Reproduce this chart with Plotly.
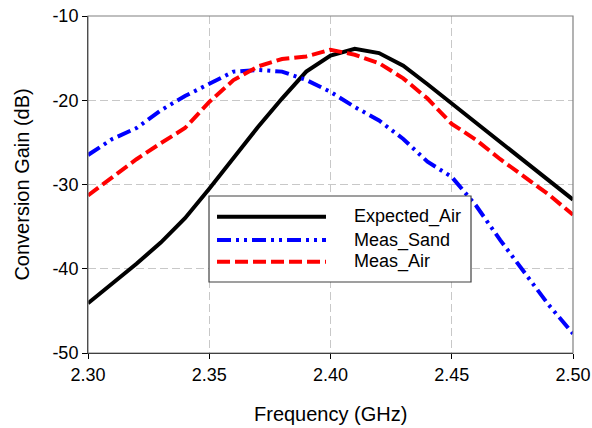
import plotly.graph_objects as go

freq = [2.30, 2.31, 2.32, 2.33, 2.34, 2.35, 2.36, 2.37, 2.38, 2.39, 2.40,
        2.41, 2.42, 2.43, 2.44, 2.45, 2.46, 2.47, 2.48, 2.49, 2.50]
expected_air = [-44.1, -41.8, -39.4, -36.9, -34.0, -30.5, -26.8, -23.2, -19.8, -16.6, -14.7,
                -13.9, -14.4, -15.9, -18.1, -20.4, -22.7, -24.9, -27.2, -29.5, -31.8]
meas_sand = [-26.5, -24.6, -23.3, -21.2, -19.5, -18.0, -16.6, -16.4, -16.6, -17.6, -19.0,
             -20.8, -22.4, -24.6, -27.3, -29.1, -32.5, -36.6, -40.5, -44.3, -47.7]
meas_air = [-31.3, -29.2, -27.0, -25.1, -23.3, -20.2, -17.6, -16.0, -15.1, -14.8, -14.0,
            -14.6, -15.6, -17.4, -19.8, -22.8, -24.7, -27.0, -29.1, -31.2, -33.6]
series_names = ["Expected_Air", "Meas_Sand", "Meas_Air"]
x_ticks = [2.30, 2.35, 2.40, 2.45, 2.50]
x_labels = ["2.30", "2.35", "2.40", "2.45", "2.50"]
y_ticks = [-50, -40, -30, -20, -10]
y_labels = ["-50", "-40", "-30", "-20", "-10"]

styles = [
    dict(color="#000000", width=4, dash="solid"),
    dict(color="#0000ff", width=4, dash="14px,5px,3px,5px,3px,5px"),
    dict(color="#ff0000", width=4, dash="13px,5px"),
]
series = [expected_air, meas_sand, meas_air]

FONT = "Liberation Sans, Arial, sans-serif"
fig = go.Figure()
for name, vals, st in zip(series_names, series, styles):
    fig.add_trace(go.Scatter(x=freq, y=vals, mode="lines", name=name,
                             line=dict(color=st["color"], width=st["width"], dash=st["dash"]),
                             showlegend=False))

# custom legend
shapes = [
    dict(type="rect", xref="paper", yref="paper", x0=0, x1=1, y0=0, y1=1,
         line=dict(color="#808080", width=1.2), layer="above"),
    dict(type="rect", xref="paper", yref="paper", x0=0.2495, x1=0.7897, y0=0.2107, y1=0.4659,
         line=dict(color="#404040", width=1.2), fillcolor="white", layer="above"),
]
rows = [0.4045, 0.3353, 0.2709]
annotations = []
for name, st, ry in zip(series_names, styles, rows):
    shapes.append(dict(type="line", xref="paper", yref="paper", x0=0.266, x1=0.4907, y0=ry, y1=ry,
                       line=dict(color=st["color"], width=st["width"], dash=st["dash"]), layer="above"))
    annotations.append(dict(xref="paper", yref="paper", x=0.5443, y=ry, text=name, showarrow=False,
                            xanchor="left", yanchor="middle", font=dict(size=18, color="black", family=FONT)))

# axis titles
annotations.append(dict(xref="paper", yref="paper", x=0.5, y=-0.18, text="Frequency (GHz)",
                        showarrow=False, xanchor="center", yanchor="middle",
                        font=dict(size=20, color="black", family=FONT)))
annotations.append(dict(xref="paper", yref="paper", x=-0.138, y=0.5, text="Conversion Gain (dB)",
                        showarrow=False, xanchor="center", yanchor="middle", textangle=-90,
                        font=dict(size=20, color="black", family=FONT)))

fig.update_layout(
    width=592, height=428,
    margin=dict(l=88, r=19, t=16, b=75),
    paper_bgcolor="white", plot_bgcolor="white",
    font=dict(family=FONT, size=18, color="black"),
    shapes=shapes, annotations=annotations,
    showlegend=False,
)
fig.update_xaxes(range=[2.30, 2.50], tickvals=x_ticks, ticktext=x_labels, automargin=False,
                 showline=True, linecolor="black", linewidth=1,
                 ticks="outside", ticklen=5, tickcolor="black",
                 showgrid=True, gridcolor="#c8c8c8", griddash="8px,4px", gridwidth=1,
                 zeroline=False)
fig.update_yaxes(range=[-50, -10], tickvals=y_ticks, ticktext=y_labels, automargin=False,
                 showline=True, linecolor="black", linewidth=1,
                 ticks="outside", ticklen=5, tickcolor="black",
                 showgrid=True, gridcolor="#c8c8c8", griddash="8px,4px", gridwidth=1,
                 zeroline=False)

fig.write_html("out.html")
